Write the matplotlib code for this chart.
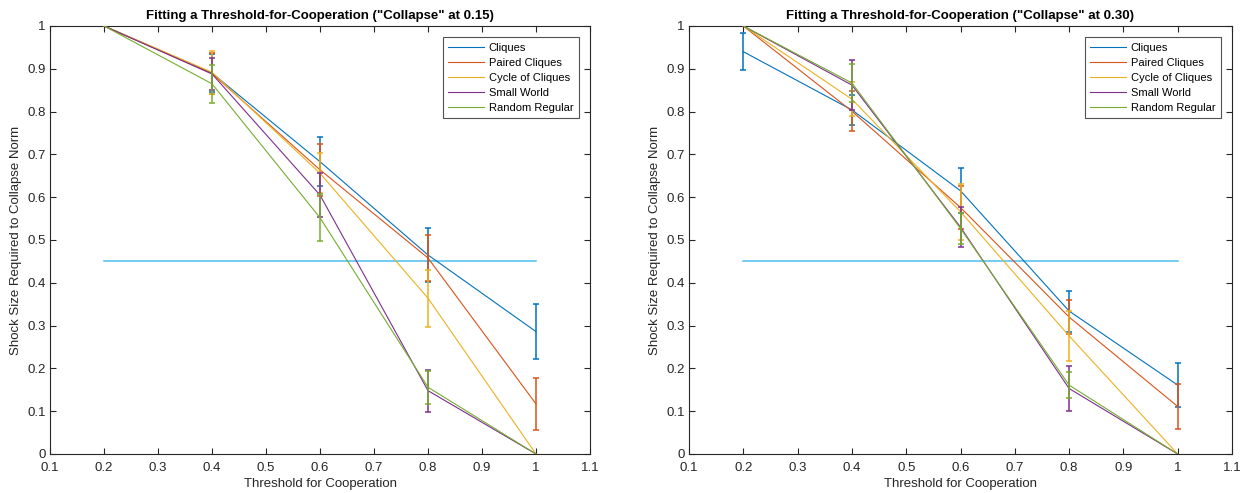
import numpy as np
import matplotlib
matplotlib.use("Agg")
import matplotlib.pyplot as plt

plt.rcParams['font.family'] = ['Liberation Sans', 'DejaVu Sans']

thresholds = [0.2, 0.4, 0.6, 0.8, 1.0]
series_names = ["Cliques", "Paired Cliques", "Cycle of Cliques", "Small World", "Random Regular"]
colors = ["#0072BD", "#D95319", "#EDB120", "#7E2F8E", "#77AC30"]

# Left panel: collapse at 0.15
left_cliques = [1.0, 0.890, 0.683, 0.465, 0.286]
left_cliques_err = [0.0, 0.044, 0.058, 0.063, 0.064]
left_paired = [1.0, 0.889, 0.664, 0.458, 0.117]
left_paired_err = [0.0, 0.047, 0.061, 0.054, 0.060]
left_cycle = [1.0, 0.892, 0.656, 0.364, 0.0]
left_cycle_err = [0.0, 0.050, 0.047, 0.067, 0.0]
left_small = [1.0, 0.888, 0.605, 0.148, 0.0]
left_small_err = [0.0, 0.038, 0.052, 0.049, 0.0]
left_random = [1.0, 0.865, 0.552, 0.156, 0.0]
left_random_err = [0.0, 0.045, 0.055, 0.039, 0.0]

# Right panel: collapse at 0.30
right_cliques = [0.940, 0.804, 0.615, 0.334, 0.161]
right_cliques_err = [0.043, 0.035, 0.053, 0.048, 0.051]
right_paired = [1.0, 0.801, 0.576, 0.320, 0.111]
right_paired_err = [0.0, 0.046, 0.050, 0.040, 0.053]
right_cycle = [1.0, 0.829, 0.566, 0.276, 0.0]
right_cycle_err = [0.0, 0.040, 0.065, 0.058, 0.0]
right_small = [1.0, 0.862, 0.530, 0.153, 0.0]
right_small_err = [0.0, 0.058, 0.046, 0.053, 0.0]
right_random = [1.0, 0.867, 0.527, 0.161, 0.0]
right_random_err = [0.0, 0.044, 0.036, 0.031, 0.0]

norm_level = 0.45
norm_x = [0.2, 1.0]

titles = ['Fitting a Threshold-for-Cooperation ("Collapse" at 0.15)',
          'Fitting a Threshold-for-Cooperation ("Collapse" at 0.30)']
xlabel = "Threshold for Cooperation"
ylabel = "Shock Size Required to Collapse Norm"
xticks = [0.1, 0.2, 0.3, 0.4, 0.5, 0.6, 0.7, 0.8, 0.9, 1.0, 1.1]
yticks = [0, 0.1, 0.2, 0.3, 0.4, 0.5, 0.6, 0.7, 0.8, 0.9, 1.0]

panels = [
    ([left_cliques, left_paired, left_cycle, left_small, left_random],
     [left_cliques_err, left_paired_err, left_cycle_err, left_small_err, left_random_err]),
    ([right_cliques, right_paired, right_cycle, right_small, right_random],
     [right_cliques_err, right_paired_err, right_cycle_err, right_small_err, right_random_err]),
]

fig = plt.figure(figsize=(12.47, 4.93), dpi=100)
ax_pos = [[50/1247, 39/493, 540/1247, 428/493],
          [689/1247, 39/493, 543/1247, 428/493]]

spine_col = "#262626"
for p, (means, errs) in enumerate(panels):
    ax = fig.add_axes(ax_pos[p])
    x = np.array(thresholds)
    for name, m, e, c in zip(series_names, means, errs, colors):
        m = np.array(m); e = np.array(e)
        ax.plot(x, m, color=c, lw=0.8, label=name, zorder=3)
        mask = e > 0
        ax.errorbar(x[mask], m[mask], yerr=e[mask], fmt='none', ecolor=c,
                    elinewidth=1.1, capsize=2.2, capthick=1.1, zorder=3)
    ax.plot(norm_x, [norm_level, norm_level], color="#4DBEEE", lw=1.1, zorder=2)
    ax.set_xlim(0.1, 1.1)
    ax.set_ylim(0, 1)
    ax.set_xticks(xticks)
    ax.set_xticklabels([f"{v:g}" for v in xticks])
    ax.set_yticks(yticks)
    ax.set_yticklabels([f"{v:g}" for v in yticks])
    ax.tick_params(direction='in', length=4, width=0.8, colors=spine_col,
                   labelsize=9.5, top=True, right=True, labelcolor="#262626")
    ax.tick_params(axis='x', pad=6)
    ax.tick_params(axis='y', pad=3)
    for s in ax.spines.values():
        s.set_color(spine_col)
        s.set_linewidth(0.8)
    ax.set_title(titles[p], fontsize=9.5, fontweight='bold', pad=5)
    ax.set_xlabel(xlabel, fontsize=9.5, color="#262626", labelpad=3)
    ax.set_ylabel(ylabel, fontsize=9.5, color="#262626", labelpad=4)
    leg = ax.legend(loc='upper right', fontsize=8, frameon=True, fancybox=False,
                    handlelength=3.2, borderaxespad=1.0, labelspacing=0.45,
                    borderpad=0.5, handletextpad=0.45)
    leg.get_frame().set_edgecolor("#262626")
    leg.get_frame().set_linewidth(0.8)

fig.savefig("out.png", dpi=100)
